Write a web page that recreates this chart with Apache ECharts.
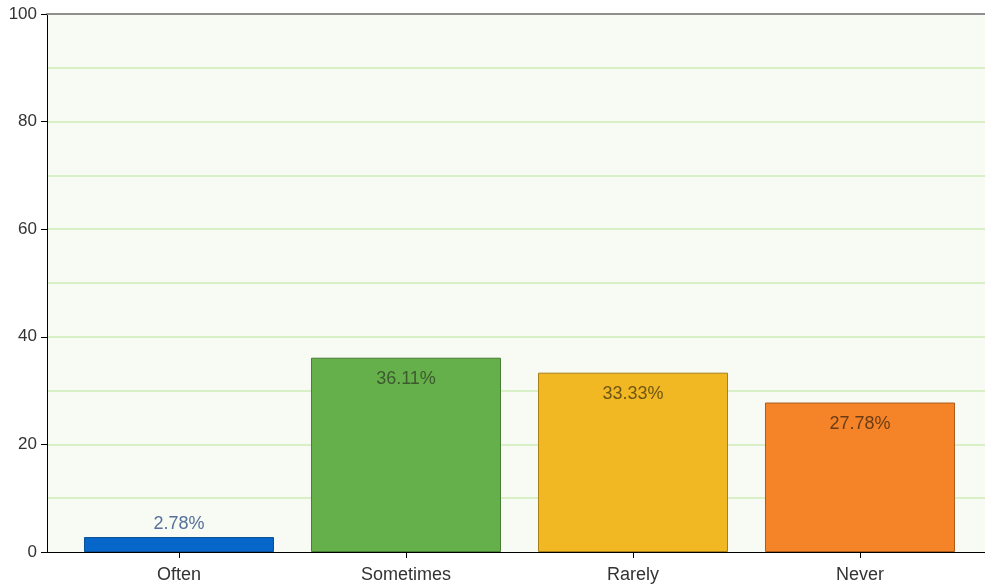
<!DOCTYPE html>
<html>
<head>
<meta charset="utf-8">
<script src="https://cdn.jsdelivr.net/npm/echarts@6/dist/echarts.min.js"></script>
<style>
html,body{margin:0;padding:0;background:#fff;}
#c{width:985px;height:587px;}
</style>
</head>
<body>
<div id="c"></div>
<script>
const categories = ['Often', 'Sometimes', 'Rarely', 'Never'];
const values = [2.78, 36.11, 33.33, 27.78];
const barColors = ['#0766c9', '#66b04b', '#f1b823', '#f58428'];
const borderColors = ['#0b4f96', '#467f34', '#a8801a', '#ad5c1c'];
const labelColors = ['#56709a', '#3c5a2e', '#6e5616', '#6a3c16'];

const FONT = '"Liberation Sans", Arial, sans-serif';
const idx = categories.map((c, i) => i);
const X_MIN = -0.5815, X_MAX = 3.5507;

const chart = echarts.init(document.getElementById('c'));
chart.setOption({
  animation: false,
  grid: {
    left: 47, top: 14, right: 0, bottom: 35,
    show: true, backgroundColor: '#f8faf4', borderWidth: 0
  },
  xAxis: [{
    type: 'value',
    min: X_MIN, max: X_MAX,
    splitLine: { show: false },
    axisLine: { show: true, onZero: false, lineStyle: { color: '#000', width: 1 } },
    axisTick: { show: true, customValues: idx, length: 6, lineStyle: { color: '#000' } },
    axisLabel: {
      customValues: idx,
      formatter: v => categories[Math.round(v)],
      color: '#333', fontSize: 18, fontFamily: FONT, margin: 14
    }
  }, {
    type: 'value',
    position: 'top',
    min: X_MIN, max: X_MAX,
    splitLine: { show: false },
    axisLine: { show: true, onZero: false, lineStyle: { color: '#8f8f8f', width: 2 } },
    axisTick: { show: false },
    axisLabel: { show: false }
  }],
  yAxis: {
    type: 'value',
    min: 0, max: 100, interval: 20,
    axisLine: { show: true, onZero: false, lineStyle: { color: '#000', width: 1 } },
    axisTick: { show: true, length: 6, lineStyle: { color: '#000' } },
    axisLabel: { color: '#333', fontSize: 17, fontFamily: FONT, margin: 10 },
    splitLine: { show: true, showMinLine: false, showMaxLine: false, lineStyle: { color: '#d9efc6', width: 2 } },
    minorTick: { show: false, splitNumber: 2 },
    minorSplitLine: { show: true, lineStyle: { color: '#d9efc6', width: 2 } }
  },
  series: [{
    type: 'bar',
    xAxisIndex: 0,
    barWidth: 190,
    data: values.map((v, i) => ({
      value: [i, v],
      itemStyle: { color: barColors[i], borderColor: borderColors[i], borderWidth: 1 },
      label: {
        show: true,
        position: v < 10 ? 'top' : 'insideTop',
        distance: v < 10 ? 4 : 12,
        color: labelColors[i],
        fontSize: 18,
        fontFamily: FONT,
        formatter: v.toFixed(2) + '%'
      }
    }))
  }]
});
</script>
</body>
</html>
